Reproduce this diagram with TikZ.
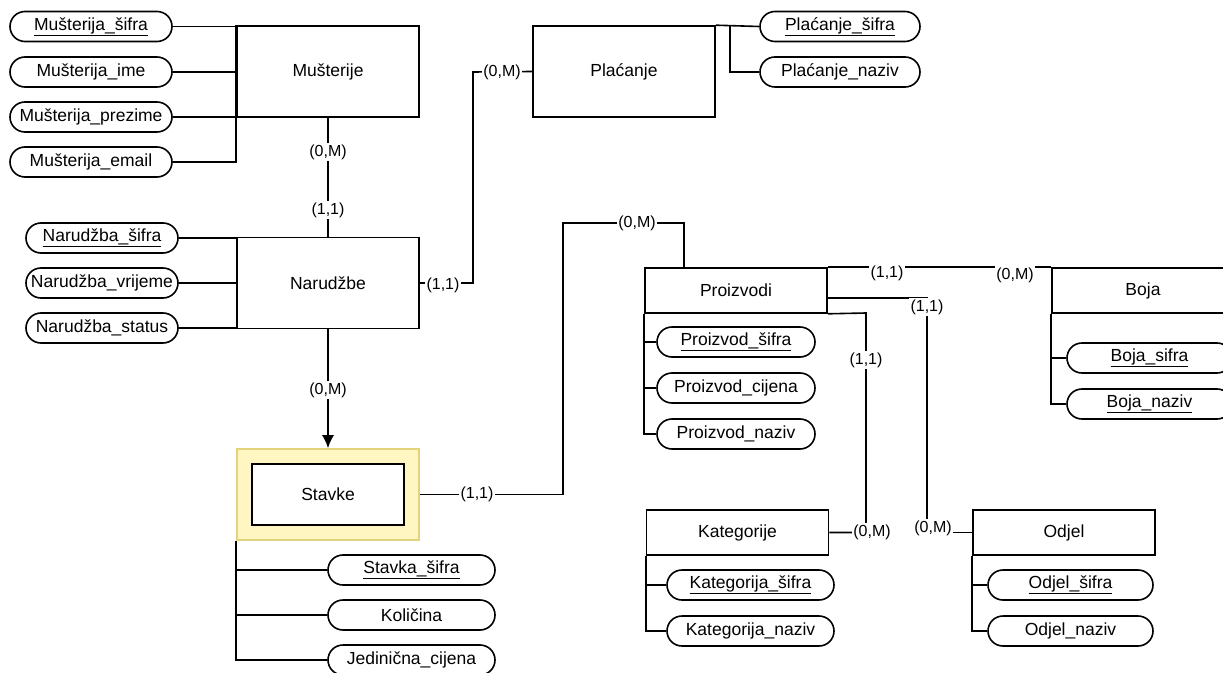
\documentclass[tikz,border=0pt]{standalone}
\usepackage{fontspec}
\setmainfont{Liberation Sans}
\usetikzlibrary{positioning,arrows.meta}
\definecolor{weakfill}{HTML}{FFF6C2}
\definecolor{weakdraw}{HTML}{E3D27E}
\tikzset{
  entity/.style={draw, rectangle, minimum width=182bp, minimum height=91bp,
    inner sep=0pt, font=\fontsize{17.5bp}{20bp}\selectfont},
  smallentity/.style={entity, minimum height=45bp},
  attr/.style={draw, rectangle, rounded corners=15bp, minimum height=30bp,
    inner sep=0pt, font=\fontsize{17.5bp}{20bp}\selectfont},
  card/.style={fill=white, inner sep=1.5bp, font=\fontsize{16bp}{18bp}\selectfont},
}
\begin{document}
\begin{tikzpicture}[x=1bp,y=-1bp,>={Latex[length=13bp,width=12bp]},line width=1.6bp]
  \useasboundingbox (0,0) rectangle (1223,673);
%%
  % Node: Musterije
  \node[entity] (mus) at (328,71.5) {Mušterije};
  \node[attr, minimum width=162bp] (mus_sifra) at (91,26.5) {\underline{Mušterija\_šifra}};
  \node[attr, minimum width=162bp] (mus_ime)   at (91,72)   {Mušterija\_ime};
  \node[attr, minimum width=162bp] (mus_prez)  at (91,117)  {Mušterija\_prezime};
  \node[attr, minimum width=162bp] (mus_email) at (91,162)  {Mušterija\_email};
  % Node: Narudzbe
  \node[entity] (nar) at (328,283) {Narudžbe};
  \node[attr, minimum width=152bp] (nar_sifra) at (102,238) {\underline{Narudžba\_šifra}};
  \node[attr, minimum width=152bp] (nar_vrij)  at (102,283) {Narudžba\_vrijeme};
  \node[attr, minimum width=152bp] (nar_stat)  at (102,328) {Narudžba\_status};
  % Node: Placanje
  \node[entity] (plac) at (624,71.5) {Plaćanje};
  \node[attr, minimum width=160bp] (plac_sifra) at (840,26.5) {\underline{Plaćanje\_šifra}};
  \node[attr, minimum width=160bp] (plac_naziv) at (840,72)   {Plaćanje\_naziv};
  % Node: Stavke (weak entity)
  \node[entity, fill=weakfill, draw=weakdraw] (stavkeOut) at (328,494.5) {};
  \node[entity, fill=white, minimum width=152bp, minimum height=61bp] (stavke) at (328,494.5) {Stavke};
  \node[attr, minimum width=167bp] (st_sifra) at (411.5,570) {\underline{Stavka\_šifra}};
  \node[attr, minimum width=167bp] (st_kol)   at (411.5,615) {Količina};
  \node[attr, minimum width=167bp] (st_cij)   at (411.5,660) {Jedinična\_cijena};
  % Node: Proizvodi
  \node[smallentity] (proiz) at (736,290.5) {Proizvodi};
  \node[attr, minimum width=158bp] (pr_sifra) at (736,342) {\underline{Proizvod\_šifra}};
  \node[attr, minimum width=158bp] (pr_cij)   at (736,388) {Proizvod\_cijena};
  \node[attr, minimum width=158bp] (pr_naz)   at (736,434) {Proizvod\_naziv};
  % Node: Boja
  \node[smallentity] (boja) at (1143,290.5) {Boja};
  \node[attr, minimum width=165bp] (boja_sifra) at (1149.5,358) {\underline{Boja\_sifra}};
  \node[attr, minimum width=165bp] (boja_naziv) at (1149.5,404) {\underline{Boja\_naziv}};
  % Node: Kategorije
  \node[smallentity] (kat) at (737.5,532.5) {Kategorije};
  \node[attr, minimum width=167bp] (kat_sifra) at (750.5,585) {\underline{Kategorija\_šifra}};
  \node[attr, minimum width=167bp] (kat_naz)   at (750.5,631) {Kategorija\_naziv};
  % Node: Odjel
  \node[smallentity] (odjel) at (1064,532.5) {Odjel};
  \node[attr, minimum width=165bp] (odj_sifra) at (1070.5,585) {\underline{Odjel\_šifra}};
  \node[attr, minimum width=165bp] (odj_naz)   at (1070.5,631) {Odjel\_naziv};
%%
  % Attributes -> entities
  \draw (mus.north west) -- (mus_email.east -| mus.west) -- (mus_email.east);
  \foreach \a in {mus_sifra,mus_ime,mus_prez}
    \draw (\a.east) -- (\a.east -| mus.west);
  \foreach \a in {nar_sifra,nar_vrij,nar_stat}
    \draw (\a.east) -- (\a.east -| nar.west);
  \coordinate (pbus) at (730,26.5);
  \draw (plac.north east) -- (plac_sifra.west);
  \draw (pbus) |- (plac_naziv.west);
  \draw (stavkeOut.south west) |- (st_cij.west);
  \foreach \a in {st_sifra,st_kol}
    \draw (\a.west) -- (\a.west -| stavkeOut.west);
  \draw (proiz.south west) |- (pr_naz.west);
  \foreach \a in {pr_sifra,pr_cij}
    \draw (\a.west) -- (\a.west -| proiz.west);
  \draw (boja.south west) |- (boja_naziv.west);
  \draw (boja_sifra.west) -- (boja_sifra.west -| boja.west);
  \draw (kat.south west) |- (kat_naz.west);
  \draw (kat_sifra.west) -- (kat_sifra.west -| kat.west);
  \draw (odjel.south west) |- (odj_naz.west);
  \draw (odj_sifra.west) -- (odj_sifra.west -| odjel.west);
  % Edge: Musterije -> Narudzbe
  \draw (mus.south) -- (nar.north);
  % Edge: Narudzbe -> Placanje
  \coordinate (np) at (473,72);
  \draw (nar.east) -| (np) -- (plac.west);
  % Edge: Narudzbe -> Stavke
  \draw[->] (nar.south) -- (stavkeOut.north);
  % Edge: Stavke -> Proizvodi
  \coordinate (sp1) at (563,223);
  \coordinate (sp2) at (684,223);
  \draw (stavkeOut.east) -| (sp1) -- (sp2) -- (sp2 |- proiz.north);
  % Edge: Proizvodi -> Boja
  \draw (proiz.north east) -- (boja.north west);
  % Edge: Proizvodi -> Kategorije
  \coordinate (pk) at (866,313);
  \draw (proiz.south east) -- (pk) |- (kat.east);
  % Edge: Proizvodi -> Odjel
  \coordinate (po) at (927,298);
  \draw (proiz.east |- po) -- (po) |- (odjel.west);
%%
  % Cardinalities
  \node[card] (c_mus)    at (328,152) {(0,M)};
  \node[card] (c_nar1)   at (328,210) {(1,1)};
  \node[card] (c_nar2)   at (443,285) {(1,1)};
  \node[card] (c_plac)   at (502,72)  {(0,M)};
  \node[card] (c_st1)    at (328,390) {(0,M)};
  \node[card] (c_st2)    at (477,494) {(1,1)};
  \node[card] (c_pr1)    at (637,223) {(0,M)};
  \node[card] (c_pr2)    at (887,273) {(1,1)};
  \node[card] (c_boja)   at (1015,275) {(0,M)};
  \node[card] (c_pr3)    at (866,360) {(1,1)};
  \node[card] (c_kat)    at (872,532) {(0,M)};
  \node[card] (c_pr4)    at (927,307) {(1,1)};
  \node[card] (c_odjel)  at (933,528) {(0,M)};
%
\end{tikzpicture}
\end{document}
